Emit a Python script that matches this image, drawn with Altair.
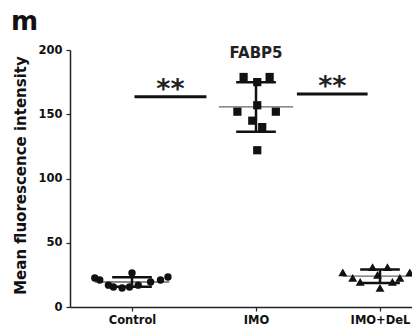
import altair as alt
import pandas as pd

groups = ["Control", "IMO", "IMO+DeL"]

# values
control_vals = [22.6, 21.0, 17.0, 15.6, 14.8, 26.5, 15.6, 17.0, 19.5, 21.0, 23.3]
control_jitter = [-0.30, -0.26, -0.19, -0.15, -0.08, 0.00, -0.02, 0.05, 0.15, 0.23, 0.29]
imo_vals = [179, 179, 175, 157, 152, 152, 145, 140, 122]
imo_jitter = [-0.10, 0.11, 0.01, 0.01, -0.15, 0.16, -0.03, 0.05, 0.01]
del_vals = [27, 22.6, 31, 25, 14.8, 31, 19.5, 22.6, 27, 19.5]
del_jitter = [-0.30, -0.22, -0.06, -0.02, 0.00, 0.06, 0.10, 0.16, 0.24, -0.16]

sig_from = [0.02, 1.33]
sig_to = [0.60, 1.90]
sig_y = [163.6, 165.8]
sig_text = ["**", "**"]

rows = []
for gi, (vals, jit) in enumerate([(control_vals, control_jitter),
                                  (imo_vals, imo_jitter),
                                  (del_vals, del_jitter)]):
    for v, j in zip(vals, jit):
        rows.append({"group": groups[gi], "gi": gi, "x": gi + j, "value": v})
df = pd.DataFrame(rows)

sig = pd.DataFrame({"x1": sig_from, "x2": sig_to, "y": sig_y, "t": sig_text})
sig["xc"] = (sig["x1"] + sig["x2"]) / 2

FONT = "DejaVu Sans"
xscale = alt.Scale(domain=[-0.5, 2.258], nice=False, zero=False)
yscale = alt.Scale(domain=[0, 200], nice=False)

xaxis = alt.Axis(values=[0, 1, 2], labelExpr="['Control','IMO','IMO+DeL'][datum.value]",
                 title=None, grid=False, domainColor="#222", domainWidth=1.5,
                 tickColor="#222", tickSize=4, tickWidth=1.2, labelFont=FONT,
                 labelFontWeight="bold", labelFontSize=11.5, labelColor="#111",
                 labelPadding=3)
yaxis = alt.Axis(values=[0, 50, 100, 150, 200], title="Mean fluorescence intensity",
                 grid=False, domainColor="#222", domainWidth=1.5, tickColor="#222",
                 tickSize=4, tickWidth=1.2, labelFont=FONT, labelFontWeight="bold",
                 labelFontSize=11.5, labelColor="#111", labelPadding=4,
                 titleFont=FONT, titleFontWeight="bold", titleFontSize=15,
                 titleColor="#111", titleX=-45, titleY=125, titleAngle=270,
                 titleBaseline="alphabetic", titleAlign="center")

base = alt.Chart(df)

points = base.mark_point(filled=True, opacity=1, color="#111").encode(
    x=alt.X("x:Q", scale=xscale, axis=xaxis),
    y=alt.Y("value:Q", scale=yscale, axis=yaxis),
    shape=alt.Shape("group:N", scale=alt.Scale(domain=groups, range=["circle", "square", "triangle-up"]), legend=None),
    size=alt.Size("group:N", scale=alt.Scale(domain=groups, range=[55, 80, 60]), legend=None),
)

stats = base.transform_aggregate(
    mean="mean(value)", sd="stdev(value)", groupby=["gi"]
).transform_calculate(
    lo="datum.mean - datum.sd", hi="datum.mean + datum.sd",
    ml="datum.gi - 0.3", mr="datum.gi + 0.3",
    cl="datum.gi - 0.16", cr="datum.gi + 0.16",
)

mean_line = stats.mark_rule(color="#666", strokeWidth=1.3).encode(
    x=alt.X("ml:Q", scale=xscale), x2="mr:Q", y=alt.Y("mean:Q", scale=yscale))
vbar = stats.mark_rule(color="#111", strokeWidth=2.5).encode(
    x=alt.X("gi:Q", scale=xscale), y=alt.Y("lo:Q", scale=yscale), y2="hi:Q")
cap_lo = stats.mark_rule(color="#111", strokeWidth=2.5).encode(
    x=alt.X("cl:Q", scale=xscale), x2="cr:Q", y=alt.Y("lo:Q", scale=yscale))
cap_hi = stats.mark_rule(color="#111", strokeWidth=2.5).encode(
    x=alt.X("cl:Q", scale=xscale), x2="cr:Q", y=alt.Y("hi:Q", scale=yscale))

sig_lines = alt.Chart(sig).mark_rule(color="#111", strokeWidth=3).encode(
    x=alt.X("x1:Q", scale=xscale), x2="x2:Q", y=alt.Y("y:Q", scale=yscale))
sig_stars = alt.Chart(sig).mark_text(font=FONT, fontWeight="bold", fontSize=27,
                                     color="#222", baseline="alphabetic", dy=1).encode(
    x=alt.X("xc:Q", scale=xscale), y=alt.Y("y:Q", scale=yscale), text="t:N")

title_df = pd.DataFrame({"x": [1.0], "y": [197.7], "t": ["FABP5"]})
title = alt.Chart(title_df).mark_text(font=FONT, fontWeight="bold", fontSize=15,
                                      color="#222", baseline="middle").encode(
    x=alt.X("x:Q", scale=xscale), y=alt.Y("y:Q", scale=yscale), text="t:N")

panel_df = pd.DataFrame({"t": ["m"]})
panel = alt.Chart(panel_df).mark_text(font=FONT, fontWeight="bold", fontSize=26,
                                      color="#111", align="left", baseline="alphabetic").encode(
    x=alt.value(-59), y=alt.value(-20), text="t:N")

chart = alt.layer(mean_line, points, vbar, cap_lo, cap_hi, sig_lines, sig_stars, title, panel).properties(
    width=342, height=257,
    autosize=alt.AutoSizeParams(type="none"),
    padding={"left": 62, "top": 42, "right": 0, "bottom": 22},
    background="white",
).configure_view(stroke=None)

chart.save("out.html", embed_options={"renderer": "svg", "actions": False})
